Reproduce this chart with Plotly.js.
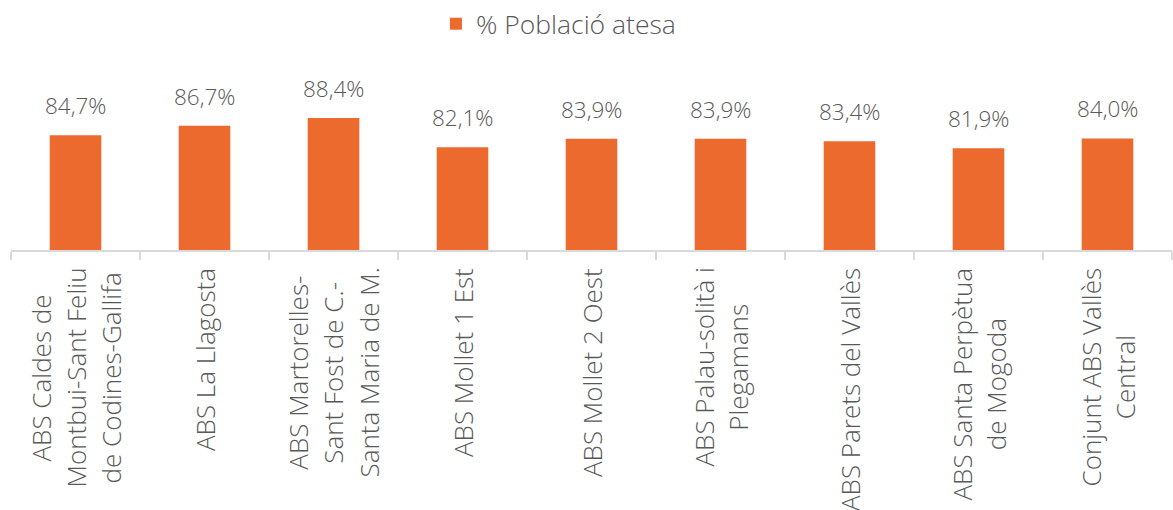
<!DOCTYPE html>
<html>
<head>
<meta charset="utf-8">
<script src="https://cdn.plot.ly/plotly-3.0.1.min.js"></script>
<style>
  html, body { margin: 0; padding: 0; background: #ffffff; }
  #chart { width: 1173px; height: 510px; }
</style>
</head>
<body>
<div id="chart"></div>
<script>
// ---- data ----
const categories = [
  'ABS Caldes de Montbui-Sant Feliu de Codines-Gallifa',
  'ABS La Llagosta',
  'ABS Martorelles-Sant Fost de C.-Santa Maria de M.',
  'ABS Mollet 1 Est',
  'ABS Mollet 2 Oest',
  'ABS Palau-solità i Plegamans',
  'ABS Parets del Vallès',
  'ABS Santa Perpètua de Mogoda',
  'Conjunt ABS Vallès Central'
];
const values = [84.7, 86.7, 88.4, 82.1, 83.9, 83.9, 83.4, 81.9, 84.0];
const tickLabels = [
  ['ABS Caldes de', 'Montbui-Sant Feliu', 'de Codines-Gallifa'],
  ['ABS La Llagosta'],
  ['ABS Martorelles-', 'Sant Fost de C.-', 'Santa Maria de M.'],
  ['ABS Mollet 1 Est'],
  ['ABS Mollet 2 Oest'],
  ['ABS Palau-solità i', 'Plegamans'],
  ['ABS Parets del Vallès'],
  ['ABS Santa Perpètua', 'de Mogoda'],
  ['Conjunt ABS Vallès', 'Central']
];
const seriesName = '% Població atesa';

// ---- style ----
const FONT = 'Open Sans';
const WEIGHT = 300;
const TEXT_COLOR = '#595959';
const BAR_COLOR = '#ED6A2F';
const GRID_COLOR = '#D9D9D9';
const LABEL_SIZE = 26;
const VALUE_SIZE = 22.5;
const LEGEND_SIZE = 26.5;
const LINE_STEP = 35;

function fmt(v) { return v.toFixed(1).replace('.', ',') + '%'; }

// measure text to centre lines of each multi-line axis label
const cvs = document.createElement('canvas');
const ctx = cvs.getContext('2d');
ctx.font = WEIGHT + ' ' + LABEL_SIZE + 'px "' + FONT + '"';

const annotations = [];
values.forEach((v, i) => {
  annotations.push({
    x: categories[i], y: v, xref: 'x', yref: 'y',
    text: fmt(v), showarrow: false,
    xanchor: 'center', yanchor: 'bottom', yshift: 12,
    font: { family: FONT, size: VALUE_SIZE, color: TEXT_COLOR, weight: WEIGHT }
  });
});
tickLabels.forEach((lines, i) => {
  const lens = lines.map(s => ctx.measureText(s).width);
  const maxLen = Math.max.apply(null, lens);
  const n = lines.length;
  lines.forEach((s, j) => {
    annotations.push({
      x: categories[i], y: 0, xref: 'x', yref: 'paper',
      text: s, showarrow: false, textangle: -90,
      xanchor: 'center', yanchor: 'top',
      xshift: (j - (n - 1) / 2) * LINE_STEP,
      yshift: -16 - (maxLen - lens[j]) / 2,
      font: { family: FONT, size: LABEL_SIZE, color: TEXT_COLOR, weight: WEIGHT }
    });
  });
});

const trace = {
  type: 'bar',
  x: categories,
  y: values,
  name: seriesName,
  marker: { color: BAR_COLOR },
  hoverinfo: 'x+y',
  showlegend: true
};

const layout = {
  width: 1173, height: 510,
  margin: { l: 11, r: 1, t: 64, b: 260, pad: 0 },
  paper_bgcolor: '#ffffff', plot_bgcolor: '#ffffff',
  bargap: 0.6,
  font: { family: FONT, color: TEXT_COLOR, weight: WEIGHT },
  showlegend: true,
  legend: {
    orientation: 'h', x: 0.366, xanchor: 'left',
    yref: 'container', y: 0.953, yanchor: 'middle',
    font: { family: FONT, size: LEGEND_SIZE, color: TEXT_COLOR, weight: WEIGHT },
    bgcolor: 'rgba(0,0,0,0)'
  },
  xaxis: {
    type: 'category',
    range: [-0.5, categories.length - 0.5],
    showticklabels: false,
    showline: true, linecolor: GRID_COLOR, linewidth: 2,
    ticks: 'outside', tickson: 'boundaries', ticklen: 8,
    tickcolor: GRID_COLOR, tickwidth: 1.5,
    showgrid: false, zeroline: false, fixedrange: true
  },
  yaxis: {
    range: [60, 100], visible: false, showgrid: false,
    zeroline: false, fixedrange: true
  },
  annotations: annotations
};

Plotly.newPlot('chart', [trace], layout, { displayModeBar: false, staticPlot: true });
</script>
</body>
</html>
